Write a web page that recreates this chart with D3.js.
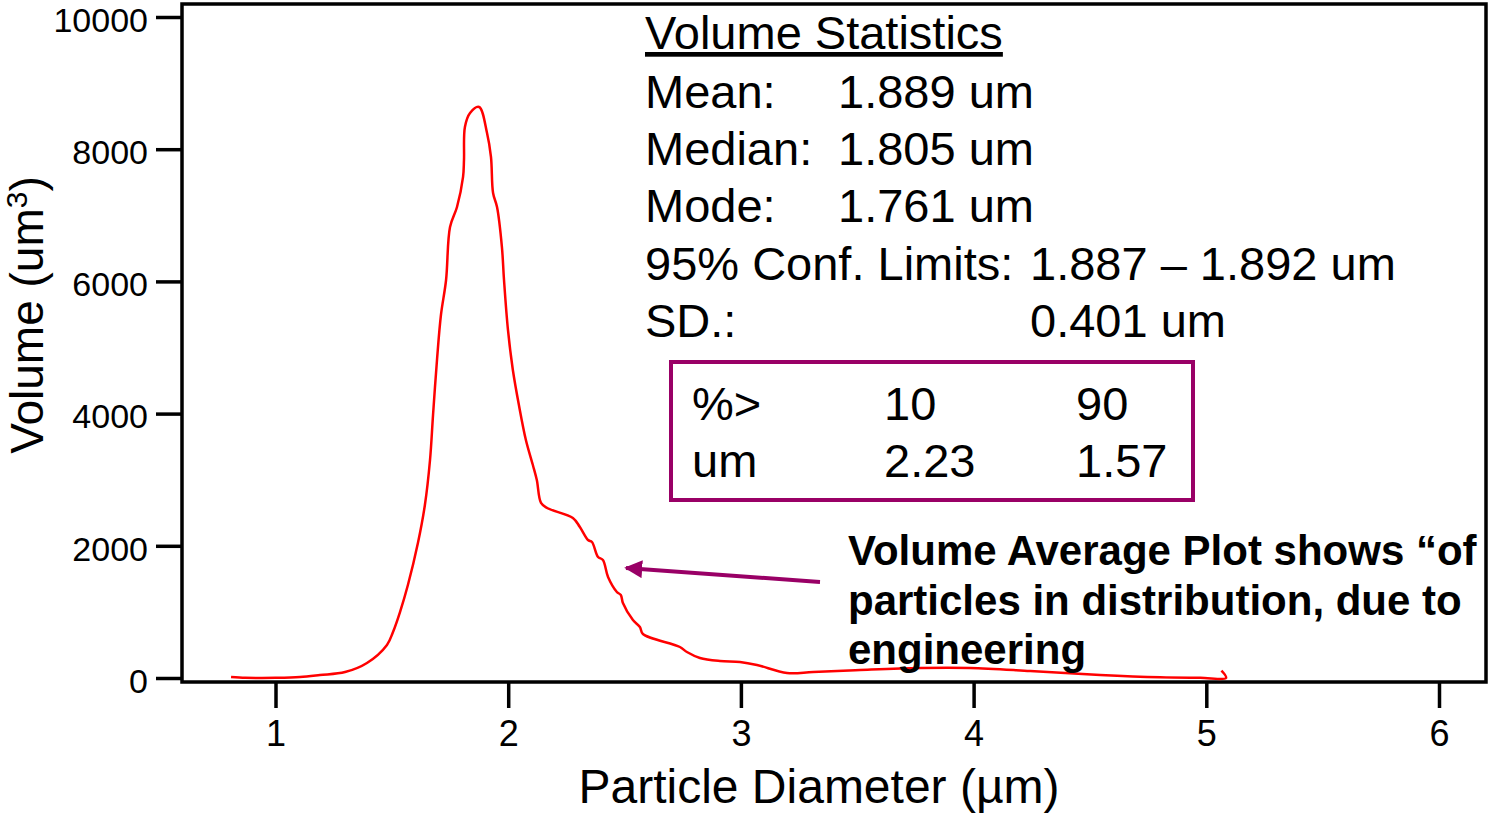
<!DOCTYPE html>
<html>
<head>
<meta charset="utf-8">
<script src="https://cdn.jsdelivr.net/npm/d3@7"></script>
<style>
  html, body { margin: 0; padding: 0; background: #fff; overflow: hidden; }
  svg { display: block; font-family: "Liberation Sans", Arial, sans-serif; }
</style>
</head>
<body>
<svg id="chart" width="1488" height="814"></svg>
<script>
// ---- data ----
const diameter = [0.809,0.87,0.933,1.00,1.105,1.191,1.299,1.393,1.479,1.505,1.535,1.569,1.612,1.642,1.664,1.677,1.694,1.711,1.733,1.750,1.780,1.806,1.810,1.814,1.836,1.875,1.909,1.926,1.935,1.952,1.973,1.982,1.999,2.020,2.046,2.076,2.106,2.123,2.141,2.167,2.278,2.308,2.343,2.360,2.386,2.407,2.429,2.467,2.484,2.493,2.536,2.566,2.579,2.738,2.768,2.824,2.910,2.996,3.069,3.198,3.310,3.512,3.770,3.985,4.243,4.544,4.802,4.974,5.085,5.065];
const volume   = [15,3,0,2,15,45,90,227,500,696,998,1407,2042,2617,3298,3979,4811,5492,6021,6823,7126,7580,7837,8336,8548,8638,8245,7882,7337,7126,6520,6021,5265,4660,4130,3601,3222,2995,2648,2572,2421,2284,2088,2057,1831,1785,1528,1301,1256,1135,877,771,666,469,393,303,257,242,197,76,91,121,151,151,106,45,10,3,0,110];
const xTicks = [1,2,3,4,5,6];
const yTicks = [0,2000,4000,6000,8000,10000];
const statsTitle = "Volume Statistics";
const statLabels = ["Mean:", "Median:", "Mode:", "95% Conf. Limits:", "SD.:"];
const statValues = ["1.889 um", "1.805 um", "1.761 um", "1.887 \u2013 1.892 um", "0.401 um"];
const pctHeader = ["%>", "10", "90"];
const pctValues = ["um", "2.23", "1.57"];
const noteLines = ["Volume Average Plot shows \u201cof", "particles in distribution, due to", "engineering"];

// ---- layout ----
const svg = d3.select("#chart");
const plotL = 182, plotR = 1486, plotT = 4, plotB = 682;
const x = d3.scaleLinear().domain([1, 6]).range([275.5, 1439]);
const y = d3.scaleLinear().domain([0, 10000]).range([678, 17]);

// frame
svg.append("rect").attr("x", plotL).attr("y", plotT)
  .attr("width", plotR - plotL).attr("height", plotB - plotT)
  .attr("fill", "none").attr("stroke", "#000").attr("stroke-width", 3.5);

// y axis
const yAxis = svg.append("g").attr("transform", `translate(${plotL},0)`)
  .call(d3.axisLeft(y).tickValues(yTicks).tickSizeInner(26).tickSizeOuter(0).tickPadding(8).tickFormat(d3.format("d")));
yAxis.select(".domain").remove();
yAxis.selectAll(".tick line").attr("stroke", "#000").attr("stroke-width", 3.5);
yAxis.selectAll(".tick text").attr("fill", "#000").attr("dy", "0.42em").style("font-size", "34px");

// x axis
const xAxis = svg.append("g").attr("transform", `translate(0,${plotB})`)
  .call(d3.axisBottom(x).tickValues(xTicks).tickSizeInner(26).tickSizeOuter(0).tickPadding(12).tickFormat(d3.format("d")));
xAxis.select(".domain").remove();
xAxis.selectAll(".tick line").attr("stroke", "#000").attr("stroke-width", 3.5);
xAxis.selectAll(".tick text").attr("fill", "#000").style("font-size", "36px");

// axis titles
svg.append("text").attr("x", 819).attr("y", 803).attr("text-anchor", "middle")
  .style("font-size", "48px").text("Particle Diameter (\u00b5m)");
const yt = svg.append("text").attr("transform", "translate(43,315) rotate(-90)")
  .attr("text-anchor", "middle").style("font-size", "46px");
yt.append("tspan").text("Volume (um");
yt.append("tspan").attr("baseline-shift", "super").style("font-size", "30px").text("3");
yt.append("tspan").text(")");

// curve
const pts = diameter.map((d, i) => [d, volume[i]]);
svg.append("path").datum(pts)
  .attr("fill", "none").attr("stroke", "#ff0000").attr("stroke-width", 2.5)
  .attr("stroke-linejoin", "round")
  .attr("d", d3.line().x(d => x(d[0])).y(d => y(d[1])).curve(d3.curveCatmullRom.alpha(0.5)));

// statistics text
const fs = "47px";
svg.append("text").attr("x", 645).attr("y", 49).style("font-size", fs)
  .attr("text-decoration", "underline").text(statsTitle);
const rowY = [108, 165, 222, 280, 337];
const valX = [838, 838, 838, 1030, 1030];
statLabels.forEach((t, i) => {
  svg.append("text").attr("x", 645).attr("y", rowY[i]).style("font-size", fs).text(t);
  svg.append("text").attr("x", valX[i]).attr("y", rowY[i]).style("font-size", fs).text(statValues[i]);
});

// percentile box
const purple = "#990066";
svg.append("rect").attr("x", 671).attr("y", 362).attr("width", 522).attr("height", 138)
  .attr("fill", "none").attr("stroke", purple).attr("stroke-width", 4);
const colX = [692, 884, 1076];
pctHeader.forEach((t, i) => svg.append("text").attr("x", colX[i]).attr("y", 420).style("font-size", fs).text(t));
pctValues.forEach((t, i) => svg.append("text").attr("x", colX[i]).attr("y", 477).style("font-size", fs).text(t));

// annotation arrow
svg.append("defs").append("marker").attr("id", "ah")
  .attr("viewBox", "0 0 10 10").attr("refX", 9).attr("refY", 5)
  .attr("markerWidth", 4.5).attr("markerHeight", 4.5).attr("orient", "auto")
  .append("path").attr("d", "M0,0 L10,5 L0,10 z").attr("fill", purple);
svg.append("line").attr("x1", 820).attr("y1", 582).attr("x2", 626).attr("y2", 568)
  .attr("stroke", purple).attr("stroke-width", 4).attr("marker-end", "url(#ah)");

// annotation text
const noteY = [565, 615, 664];
noteLines.forEach((t, i) => svg.append("text").attr("x", 848).attr("y", noteY[i])
  .style("font-size", "42px").style("font-weight", "bold").text(t));
</script>
</body>
</html>
